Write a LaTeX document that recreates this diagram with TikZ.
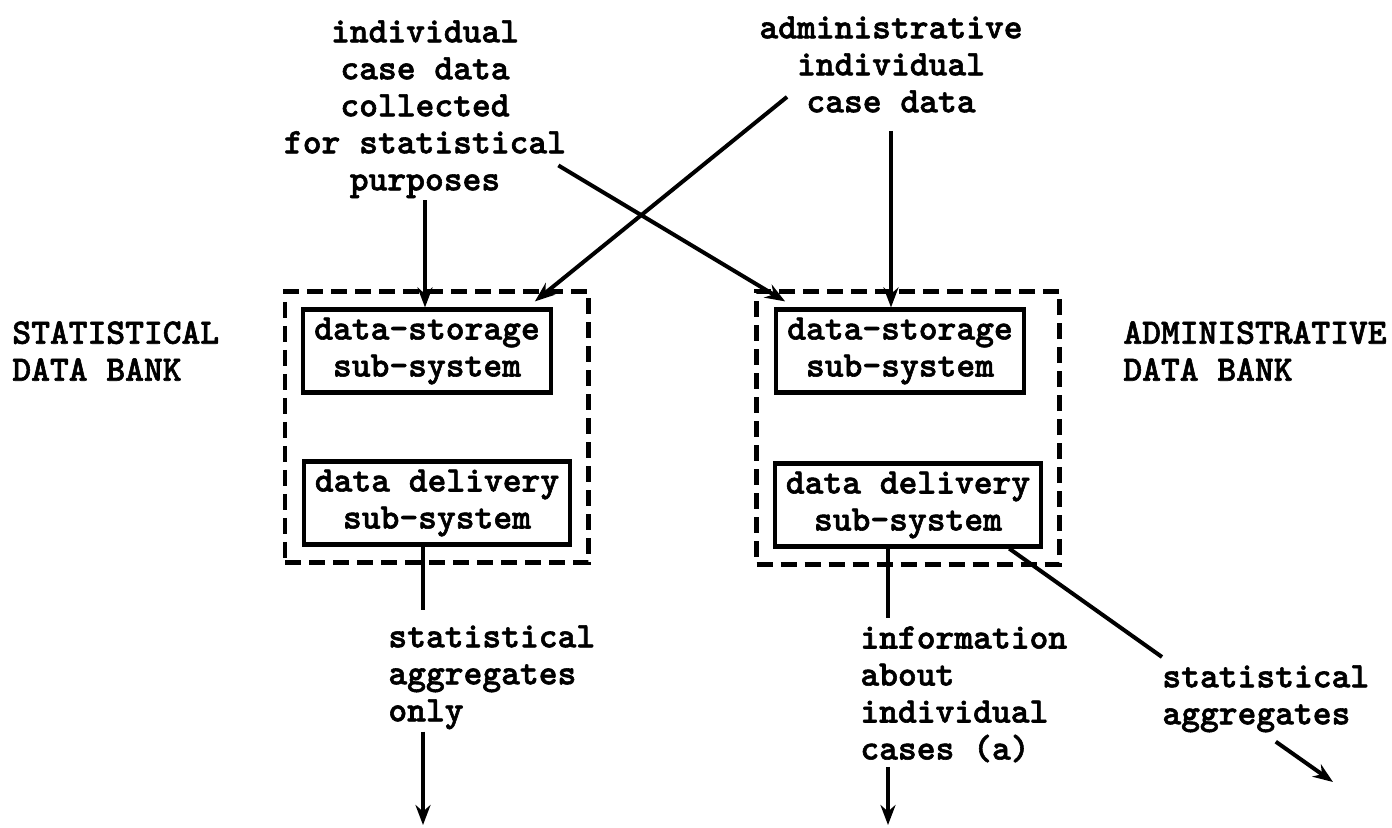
\documentclass[tikz,border=0pt]{standalone}
\usepackage{fontspec}
\usepackage{tikz}
\usetikzlibrary{positioning,fit,calc,arrows.meta}
\newfontfamily\typewr{lmmonolt10-bold.otf}[FakeBold=1.6]

\tikzset{
  txt/.style={inner sep=0pt,font=\typewr\fontsize{17.9}{18.5}\selectfont},
  subsys/.style={txt,draw,line width=2.1pt,align=center,minimum height=41.5pt,inner xsep=5.5pt},
  bank/.style={draw,line width=2.3pt,dash pattern=on 8pt off 4pt,inner sep=8pt},
  flow/.style={line width=2pt,-{Stealth[length=10pt,width=7.5pt]}},
  feed/.style={line width=2pt},
}

\begin{document}
\begin{tikzpicture}[x=0.5pt,y=-0.5pt,on grid,auto]
  \useasboundingbox (0,0) rectangle (1392,827);

  % the two banks
  \node[subsys] at (427,351) (sstore) {data-storage\\sub-system};
  \node[subsys,below right=76pt and 5pt of sstore] (sdeliv) {data delivery\\sub-system};
  \node[subsys,right=236.5pt of sstore] (rstore) {data-storage\\sub-system};
  \node[subsys,below right=77pt and 4pt of rstore] (rdeliv) {data delivery\\sub-system};
  \node[bank,fit=(sstore)(sdeliv)] (sbank) {};
  \node[bank,fit=(rstore)(rdeliv)] (rbank) {};

  % labels
  \node[txt,align=left,anchor=north west] at (12,321) (slabel) {STATISTICAL\\DATA BANK};
  \node[txt,align=left,anchor=north west] at (1123,321) (rlabel) {ADMINISTRATIVE\\DATA BANK};
  \node[txt,align=center,anchor=north] at (425,20) (stattop)
    {individual\\case data\\collected\\for statistical\\purposes};
  \node[txt,align=center,anchor=north] at (891,16) (admtop)
    {administrative\\individual\\case data};
  \node[txt,align=left,anchor=north west] at (388,625) (sout)
    {statistical\\aggregates\\only};
  \node[txt,align=left,anchor=north west] at (860,626) (aout)
    {information\\about\\individual\\cases (a)};
  \node[txt,align=left,anchor=north west] at (1162,665) (agg)
    {statistical\\aggregates};

  \coordinate (sgo) at (423,825);
  \coordinate (ago) at (888,825);
  \coordinate (ggo) at (1333,782);

  \path[flow]
  (stattop.south) edge[shorten <=1pt] (stattop.south |- sstore.north)
  (admtop.south) edge[shorten <=9pt] (admtop.south |- rstore.north)
  ($(admtop.south west)+(28,-16)$) edge ($(sstore.north east)+(-18,-6)$)
  ($(stattop.south east)+(-8,-33)$) edge ($(rstore.north west)+(11,-6)$)
  (sout.south -| sgo) edge[shorten <=1pt] (sgo)
  (aout.south -| ago) edge[shorten <=2pt] (ago)
  ($(agg.south)+(10,9)$) edge (ggo)
  ;
  \path[feed]
  (sdeliv.south -| sgo) edge[shorten >=7.5pt] (sout.north -| sgo)
  (rdeliv.south -| ago) edge[shorten >=4pt] (aout.north -| ago)
  ($(rdeliv.south east)+(-34,0)$) edge ($(agg.north west)+(0,-8)$)
  ;
\end{tikzpicture}
\end{document}
